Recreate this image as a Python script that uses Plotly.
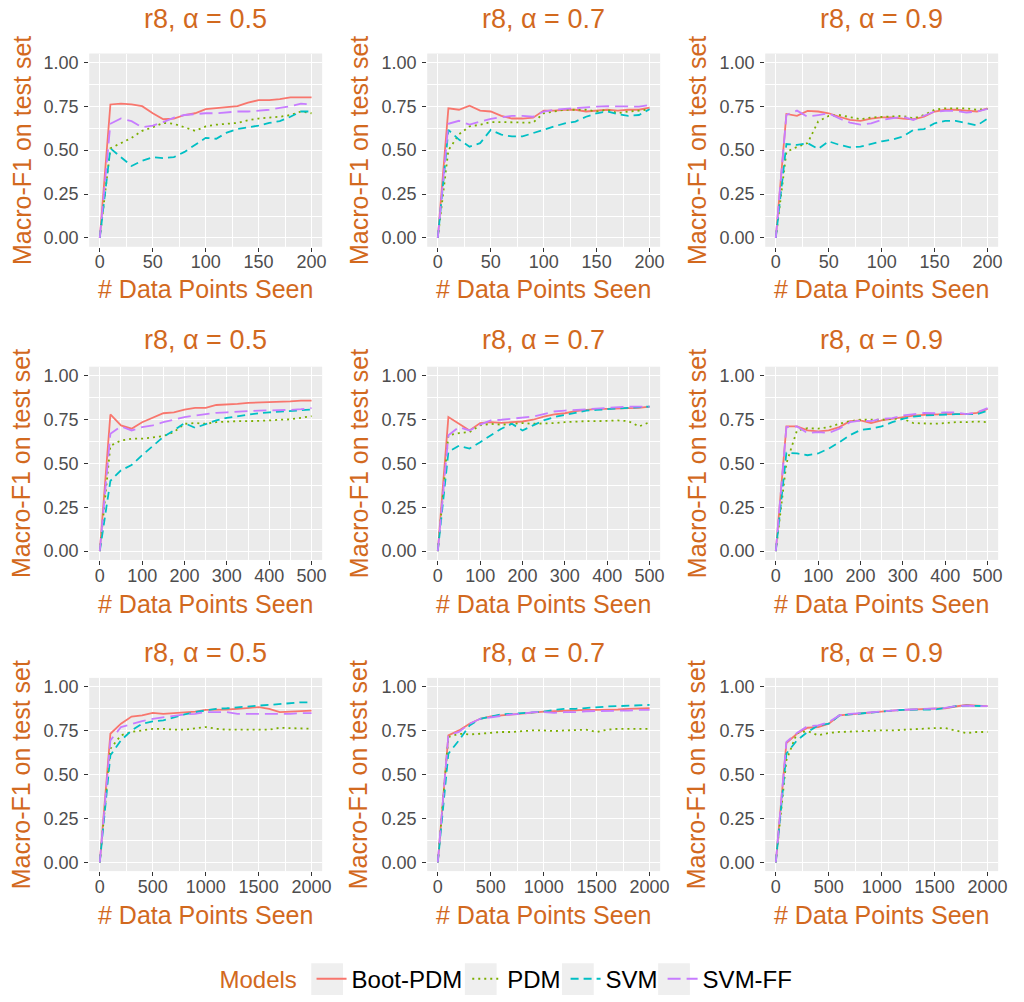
import plotly.graph_objects as go

# ---- sample sizes (x) for the three experiment lengths ----
x_200 = [0, 10, 20, 30, 40, 50, 60, 70, 80, 90, 100, 110, 120, 130, 140, 150, 160, 170, 180, 190, 200]
x_500 = [0, 25, 50, 75, 100, 125, 150, 175, 200, 225, 250, 275, 300, 325, 350, 375, 400, 425, 450, 475, 500]
x_2000 = [0, 100, 200, 300, 400, 500, 600, 700, 800, 900, 1000, 1100, 1200, 1300, 1400, 1500, 1600, 1700, 1800, 1900, 2000]

models = ["Boot-PDM", "PDM", "SVM", "SVM-FF"]
alphas = ["0.5", "0.7", "0.9"]
x_tick_labels = {200: ["0", "50", "100", "150", "200"],
                 500: ["0", "100", "200", "300", "400", "500"],
                 2000: ["0", "500", "1000", "1500", "2000"]}
y_tick_labels = ["0.00", "0.25", "0.50", "0.75", "1.00"]

# ---- Macro-F1, 200 points ----
boot_200_a05 = [0, .76, .765, .76, .75, .71, .676, .68, .70, .71, .734, .74, .745, .75, .77, .785, .785, .79, .80, .80, .80]
pdm_200_a05 = [0, .51, .54, .57, .61, .63, .655, .65, .63, .61, .635, .645, .65, .655, .67, .68, .685, .69, .70, .72, .71]
svm_200_a05 = [0, .51, .46, .41, .44, .46, .455, .46, .49, .53, .57, .565, .60, .62, .63, .64, .655, .665, .69, .72, .72]
svmff_200_a05 = [0, .65, .68, .665, .63, .64, .66, .685, .70, .705, .71, .71, .715, .72, .72, .725, .73, .74, .75, .765, .76]

boot_200_a07 = [0, .738, .73, .753, .725, .72, .695, .68, .68, .685, .725, .725, .73, .73, .72, .723, .73, .725, .73, .73, .742]
pdm_200_a07 = [0, .50, .59, .635, .645, .66, .66, .657, .657, .657, .71, .72, .73, .73, .73, .72, .73, .71, .72, .725, .733]
svm_200_a07 = [0, .615, .56, .52, .54, .615, .588, .578, .578, .597, .62, .635, .653, .663, .69, .71, .72, .705, .695, .70, .733]
svmff_200_a07 = [0, .65, .667, .645, .663, .678, .687, .695, .695, .69, .72, .73, .735, .74, .742, .748, .75, .75, .75, .748, .757]

boot_200_a09 = [0, .706, .695, .723, .72, .71, .69, .672, .667, .68, .687, .687, .68, .676, .69, .72, .73, .73, .725, .72, .738]
pdm_200_a09 = [0, .49, .518, .54, .663, .695, .70, .686, .676, .686, .69, .695, .695, .68, .70, .73, .738, .738, .738, .73, .735]
svm_200_a09 = [0, .535, .53, .54, .507, .55, .53, .516, .52, .535, .55, .56, .578, .615, .62, .653, .667, .667, .653, .64, .68]
svmff_200_a09 = [0, .70, .725, .69, .70, .71, .68, .657, .645, .653, .672, .68, .69, .672, .695, .72, .723, .723, .714, .72, .735]

# ---- Macro-F1, 500 points ----
boot_500_a05 = [0, .778, .716, .697, .734, .759, .785, .79, .806, .815, .815, .832, .834, .838, .844, .846, .846, .85, .853, .857, .857]
pdm_500_a05 = [0, .60, .63, .64, .64, .646, .655, .678, .725, .729, .725, .734, .738, .74, .74, .74, .744, .748, .75, .759, .768]
svm_500_a05 = [0, .40, .46, .49, .546, .60, .65, .687, .729, .702, .725, .744, .759, .768, .778, .785, .79, .795, .80, .804, .806]
svmff_500_a05 = [0, .668, .71, .687, .706, .716, .734, .75, .763, .772, .78, .787, .79, .795, .797, .80, .80, .804, .804, .808, .814]

boot_500_a07 = [0, .763, .725, .687, .729, .734, .73, .734, .738, .748, .766, .778, .785, .797, .804, .81, .81, .814, .814, .815, .823]
pdm_500_a07 = [0, .66, .672, .678, .716, .725, .72, .725, .729, .725, .725, .729, .734, .738, .74, .74, .744, .744, .74, .71, .734]
svm_500_a07 = [0, .565, .60, .584, .62, .66, .697, .725, .687, .716, .744, .763, .776, .787, .80, .804, .808, .812, .815, .819, .823]
svmff_500_a07 = [0, .66, .706, .687, .72, .744, .748, .753, .759, .766, .78, .795, .80, .804, .81, .815, .819, .819, .823, .823, .823]

boot_500_a09 = [0, .71, .71, .687, .682, .687, .706, .74, .744, .729, .744, .753, .766, .772, .776, .78, .78, .78, .78, .787, .81]
pdm_500_a09 = [0, .50, .687, .70, .697, .706, .725, .74, .748, .748, .748, .753, .753, .729, .725, .725, .729, .734, .734, .738, .734]
svm_500_a09 = [0, .56, .556, .546, .556, .584, .62, .66, .69, .697, .71, .734, .753, .766, .772, .776, .776, .78, .78, .78, .80]
svmff_500_a09 = [0, .706, .71, .672, .678, .672, .697, .734, .744, .74, .753, .757, .772, .78, .787, .785, .79, .79, .78, .79, .814]

# ---- Macro-F1, 2000 points ----
boot_2000_a05 = [0, .732, .789, .83, .836, .851, .845, .849, .855, .858, .868, .868, .87, .874, .879, .883, .874, .855, .858, .86, .864]
pdm_2000_a05 = [0, .647, .723, .742, .751, .76, .76, .755, .755, .764, .77, .76, .755, .755, .755, .751, .755, .766, .764, .76, .76]
svm_2000_a05 = [0, .609, .694, .751, .789, .802, .808, .826, .842, .855, .864, .874, .877, .883, .887, .892, .896, .902, .906, .911, .911]
svmff_2000_a05 = [0, .694, .77, .789, .804, .817, .826, .836, .842, .845, .855, .855, .855, .845, .845, .845, .842, .845, .845, .849, .849]

boot_2000_a07 = [0, .723, .751, .789, .817, .83, .836, .842, .845, .855, .858, .86, .864, .864, .868, .868, .868, .87, .874, .874, .877]
pdm_2000_a07 = [0, .713, .732, .728, .732, .738, .742, .742, .747, .751, .751, .747, .751, .751, .755, .742, .755, .76, .76, .76, .76]
svm_2000_a07 = [0, .619, .694, .779, .817, .83, .842, .845, .849, .855, .858, .868, .874, .874, .879, .883, .887, .889, .892, .892, .896]
svmff_2000_a07 = [0, .723, .742, .789, .817, .826, .836, .842, .845, .855, .855, .851, .855, .855, .86, .86, .864, .86, .864, .868, .868]

boot_2000_a09 = [0, .679, .732, .766, .77, .789, .836, .842, .845, .855, .858, .864, .868, .87, .874, .874, .877, .887, .896, .892, .889]
pdm_2000_a09 = [0, .581, .736, .747, .723, .736, .742, .745, .747, .751, .751, .751, .755, .76, .764, .764, .764, .751, .736, .742, .742]
svm_2000_a09 = [0, .619, .694, .742, .779, .789, .836, .842, .845, .855, .86, .864, .868, .87, .87, .87, .879, .889, .892, .889, .889]
svmff_2000_a09 = [0, .685, .736, .775, .779, .798, .836, .845, .849, .855, .86, .864, .868, .87, .874, .877, .879, .889, .892, .889, .889]

# panel grid: rows = experiment length, columns = alpha
panels = [
    (200, x_200, [[boot_200_a05, pdm_200_a05, svm_200_a05, svmff_200_a05],
                  [boot_200_a07, pdm_200_a07, svm_200_a07, svmff_200_a07],
                  [boot_200_a09, pdm_200_a09, svm_200_a09, svmff_200_a09]]),
    (500, x_500, [[boot_500_a05, pdm_500_a05, svm_500_a05, svmff_500_a05],
                  [boot_500_a07, pdm_500_a07, svm_500_a07, svmff_500_a07],
                  [boot_500_a09, pdm_500_a09, svm_500_a09, svmff_500_a09]]),
    (2000, x_2000, [[boot_2000_a05, pdm_2000_a05, svm_2000_a05, svmff_2000_a05],
                    [boot_2000_a07, pdm_2000_a07, svm_2000_a07, svmff_2000_a07],
                    [boot_2000_a09, pdm_2000_a09, svm_2000_a09, svmff_2000_a09]]),
]

# ---- styling ----
W, H = 1024, 1002
FONT = "Liberation Sans, Arial, Helvetica, sans-serif"
ACCENT = "#D2691E"
TICK_GREY = "#4D4D4D"
colors = ["#F8766D", "#7CAE00", "#00BFC4", "#C77CFF"]
dashes = ["solid", "2px,4px", "8px,5px", "13px,6px"]

col_px = [(90, 325), (431, 666), (772, 1007)]       # panel left/right in pixels
row_px = [(53, 248), (369, 564), (683, 878)]        # panel top/bottom in pixels
title_px = [18, 342, 658]
xtitle_px = [291, 608, 922]
ytitle_x_px = [22, 362, 703]
legend_y_px = 987
legend_key_centres_px = [330, 485, 583, 680]       # grey key backgrounds behind legend samples

fig = go.Figure()
annotations = []
shapes = []


def px_x(v):
    return v / W


def px_y(v):
    return 1 - v / H


for r, (xmax, xs, rows_vals) in enumerate(panels):
    pad = xmax * 0.05
    major = {200: 50, 500: 100, 2000: 500}[xmax]
    for c in range(3):
        idx = r * 3 + c + 1
        xa = "x" if idx == 1 else f"x{idx}"
        ya = "y" if idx == 1 else f"y{idx}"
        for m, name in enumerate(models):
            fig.add_trace(go.Scatter(
                x=xs, y=rows_vals[c][m], mode="lines", name=name,
                legendgroup=name, showlegend=(idx == 1),
                line=dict(color=colors[m], width=1.8, dash=dashes[m]),
                xaxis=xa, yaxis=ya, hoverinfo="skip"))
        l, rr = col_px[c]
        t, b = row_px[r]
        axis_common = dict(showgrid=True, gridcolor="#FFFFFF", gridwidth=1.2,
                           zeroline=False, ticks="outside", ticklen=4, tickwidth=1,
                           tickcolor="#333333", showline=False,
                           tickfont=dict(family=FONT, size=18, color=TICK_GREY))
        fig.layout[("xaxis" if idx == 1 else f"xaxis{idx}")] = dict(
            domain=[px_x(l), px_x(rr)], anchor=ya, range=[-pad, xmax + pad],
            tickmode="array",
            tickvals=[i * major for i in range(len(x_tick_labels[xmax]))],
            ticktext=x_tick_labels[xmax], ticklabelstandoff=-5,
            minor=dict(tickmode="array",
                       tickvals=[(i + 0.5) * major for i in range(len(x_tick_labels[xmax]) - 1)],
                       showgrid=True, gridcolor="#FFFFFF", gridwidth=0.5, ticks=""),
            **axis_common)
        fig.layout[("yaxis" if idx == 1 else f"yaxis{idx}")] = dict(
            domain=[px_y(b), px_y(t)], anchor=xa, range=[-0.05, 1.05],
            tickmode="array", tickvals=[0, 0.25, 0.5, 0.75, 1.0], ticktext=y_tick_labels,
            ticklabelstandoff=2,
            minor=dict(tickmode="array", tickvals=[0.125, 0.375, 0.625, 0.875],
                       showgrid=True, gridcolor="#FFFFFF", gridwidth=0.5, ticks=""),
            **axis_common)
        cx = (l + rr) / 2
        annotations.append(dict(text=f"r8, α = {alphas[c]}", x=px_x(cx), y=px_y(title_px[r]),
                                xref="paper", yref="paper", showarrow=False,
                                xanchor="center", yanchor="middle",
                                font=dict(family=FONT, size=27, color=ACCENT)))
        annotations.append(dict(text="# Data Points Seen", x=px_x(cx), y=px_y(xtitle_px[r]),
                                xref="paper", yref="paper", showarrow=False,
                                xanchor="center", yanchor="middle",
                                font=dict(family=FONT, size=25, color=ACCENT)))
        annotations.append(dict(text="Macro-F1 on test set", x=px_x(ytitle_x_px[c]),
                                y=px_y((t + b) / 2), xref="paper", yref="paper",
                                showarrow=False, textangle=-90,
                                xanchor="center", yanchor="middle",
                                font=dict(family=FONT, size=25, color=ACCENT)))

# light key backgrounds behind the legend samples
for kc in legend_key_centres_px:
    shapes.append(dict(type="rect", xref="paper", yref="paper", layer="below",
                       x0=px_x(kc - 16), x1=px_x(kc + 16),
                       y0=px_y(legend_y_px + 16), y1=px_y(legend_y_px - 16),
                       fillcolor="#EFEFEF", line=dict(width=0)))

fig.update_layout(
    width=W, height=H, margin=dict(l=0, r=0, t=0, b=0),
    paper_bgcolor="#FFFFFF", plot_bgcolor="#EBEBEB",
    font=dict(family=FONT),
    annotations=annotations,
    shapes=shapes,
    legend=dict(orientation="h", x=0.5, xanchor="center", y=px_y(legend_y_px), yanchor="middle",
                itemwidth=30, bgcolor="rgba(0,0,0,0)",
                font=dict(family=FONT, size=24, color="#000000"),
                title=dict(text="Models ", side="left",
                           font=dict(family=FONT, size=24, color=ACCENT))),
)

fig.write_html("out.html")
